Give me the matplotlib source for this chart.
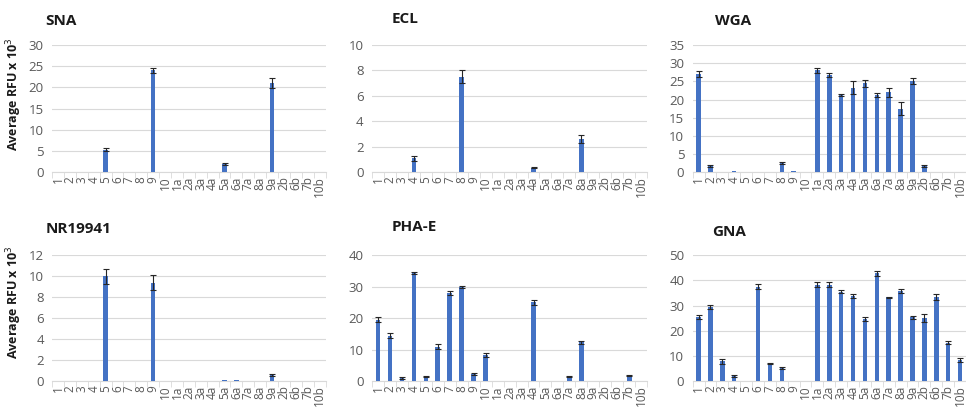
import matplotlib
matplotlib.use("Agg")
import matplotlib.pyplot as plt
import numpy as np

plt.rcParams['font.family'] = ['Open Sans', 'DejaVu Sans']

cats = ["1", "2", "3", "4", "5", "6", "7", "8", "9", "10",
        "1a", "2a", "3a", "4a", "5a", "6a", "7a", "8a", "9a",
        "2b", "6b", "7b", "10b"]

# mean values (RFU x 10^3) and errors, one list per lectin
sna = [0, 0, 0, 0, 5.3, 0, 0, 0, 24.0, 0, 0, 0, 0, 0, 2.0, 0, 0, 0, 21.0, 0, 0, 0, 0]
sna_err = [0, 0, 0, 0, 0.3, 0, 0, 0, 0.6, 0, 0, 0, 0, 0, 0.2, 0, 0, 0, 1.2, 0, 0, 0, 0]

ecl = [0, 0, 0, 1.1, 0, 0, 0, 7.5, 0, 0, 0, 0, 0, 0.35, 0, 0, 0, 2.6, 0, 0, 0, 0, 0]
ecl_err = [0, 0, 0, 0.2, 0, 0, 0, 0.5, 0, 0, 0, 0, 0, 0.05, 0, 0, 0, 0.3, 0, 0, 0, 0, 0]

wga = [27.0, 1.7, 0.1, 0.2, 0.1, 0, 0, 2.5, 0.2, 0,
       28.0, 26.8, 21.3, 23.3, 24.5, 21.3, 22.0, 17.5, 25.0,
       1.7, 0.1, 0.1, 0.1]
wga_err = [0.8, 0.2, 0, 0, 0, 0, 0, 0.3, 0, 0,
           0.7, 0.5, 0.3, 1.8, 1.0, 0.6, 1.2, 1.8, 0.8,
           0.2, 0, 0, 0]

nr = [0.02, 0.05, 0.02, 0.05, 10.0, 0, 0, 0.02, 9.4, 0,
      0.02, 0.05, 0, 0.02, 0.08, 0.08, 0, 0.02, 0.6,
      0.05, 0.02, 0.02, 0.02]
nr_err = [0, 0, 0, 0, 0.7, 0, 0, 0, 0.7, 0,
          0, 0, 0, 0, 0, 0, 0, 0, 0.1,
          0, 0, 0, 0]

pha = [19.5, 14.5, 1.0, 34.3, 1.6, 11.0, 28.0, 30.0, 2.3, 8.3,
       0, 0, 0, 25.0, 0, 0, 1.4, 12.3, 0,
       0, 0, 1.8, 0]
pha_err = [0.8, 0.8, 0.2, 0.3, 0.2, 0.7, 0.5, 0.3, 0.2, 0.7,
           0, 0, 0, 0.8, 0, 0, 0.2, 0.5, 0,
           0, 0, 0.2, 0]

gna = [25.5, 29.5, 8.0, 2.0, 0.2, 37.5, 7.0, 5.3, 0, 0,
       38.3, 38.3, 35.5, 33.8, 24.8, 42.8, 33.3, 35.7, 25.3,
       25.0, 33.5, 15.3, 8.5]
gna_err = [0.8, 0.8, 1.0, 0.3, 0, 1.0, 0.3, 0.5, 0, 0,
           1.0, 1.0, 0.5, 0.7, 0.8, 1.0, 0.3, 0.8, 0.7,
           1.5, 1.3, 0.7, 0.7]

panels = [
    ("SNA", sna, sna_err, 30, 5, [0.054, 0.579, 0.283, 0.311], (0.047, 0.948)),
    ("ECL", ecl, ecl_err, 10, 2, [0.385, 0.579, 0.285, 0.311], (0.405, 0.953)),
    ("WGA", wga, wga_err, 35, 5, [0.717, 0.579, 0.283, 0.311], (0.740, 0.948)),
    ("NR19941", nr, nr_err, 12, 2, [0.054, 0.068, 0.283, 0.308], (0.047, 0.440)),
    ("PHA-E", pha, pha_err, 40, 10, [0.385, 0.068, 0.285, 0.308], (0.405, 0.445)),
    ("GNA", gna, gna_err, 50, 10, [0.717, 0.068, 0.283, 0.308], (0.737, 0.432)),
]

bar_col = "#4472C4"
grid_col = "#D9D9D9"
txt_col = "#595959"

fig = plt.figure(figsize=(9.66, 4.09), dpi=100)
x = np.arange(len(cats))

for name, vals, errs, ymax, step, rect, tpos in panels:
    ax = fig.add_axes(rect)
    ax.bar(x, vals, width=0.38, color=bar_col, zorder=3)
    # error bars only where an error was measured
    errs = np.array(errs)
    vals = np.array(vals)
    m = errs > 0
    ax.errorbar(x[m], vals[m], yerr=errs[m], fmt="none", ecolor="#262626",
                elinewidth=0.8, capsize=2, capthick=0.8, zorder=4)
    ax.set_xlim(-0.5, len(cats) - 0.5)
    ax.set_ylim(0, ymax)
    ax.set_yticks(np.arange(0, ymax + 0.01, step))
    ax.yaxis.grid(True, color=grid_col, linewidth=0.8, zorder=0)
    ax.set_axisbelow(True)
    for s in ["top", "right", "left"]:
        ax.spines[s].set_visible(False)
    ax.spines["bottom"].set_color(grid_col)
    ax.set_xticks(x)
    ax.set_xticklabels(cats, rotation=90, fontsize=8.5, color=txt_col)
    ax.set_xticks(np.arange(-0.5, len(cats), 1), minor=True)
    ax.tick_params(axis="x", which="major", length=0, pad=3)
    ax.tick_params(axis="x", which="minor", length=4, color=grid_col)
    ax.tick_params(axis="y", length=0, labelsize=9.5, labelcolor=txt_col, pad=6)
    fig.text(tpos[0], tpos[1], name, fontsize=11, fontweight="bold", color="#1a1a1a",
             ha="left", va="center")

for yc in (0.77, 0.26):
    fig.text(0.015, yc, r"Average RFU x 10$^3$", rotation=90, fontsize=9,
             fontweight="bold", ha="center", va="center", color="#1a1a1a")

fig.savefig("out.png", dpi=100)
